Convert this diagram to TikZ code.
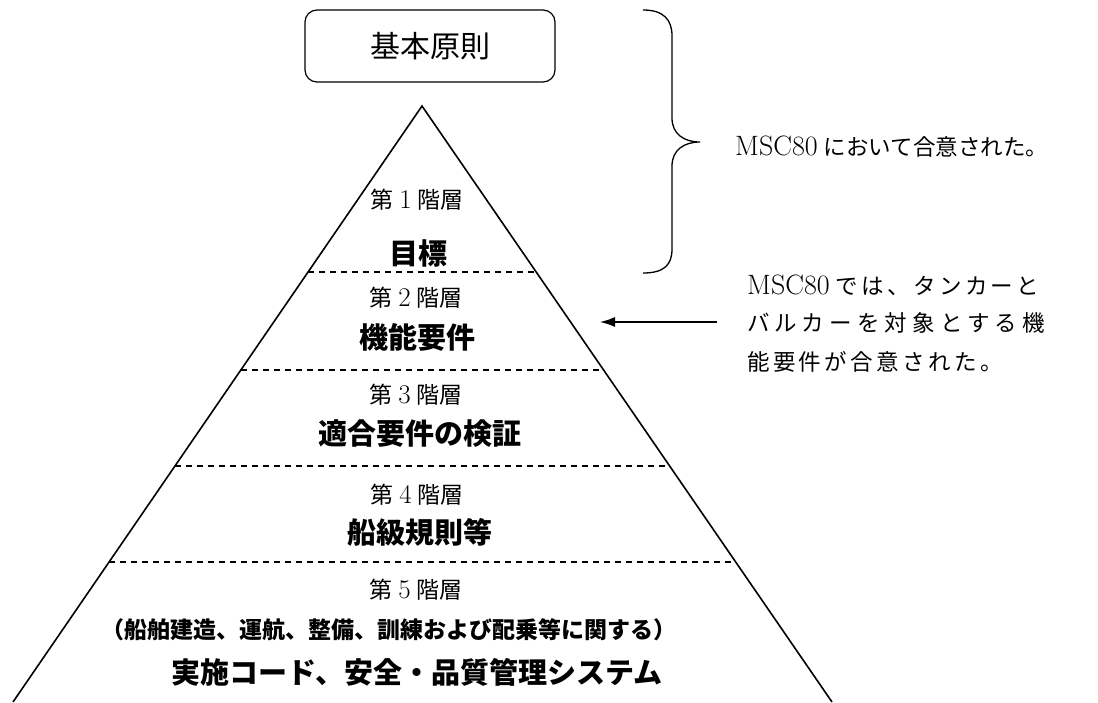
\documentclass[tikz,border=0pt]{standalone}
\usepackage{fontspec}
\newfontfamily\cjk{Noto Sans CJK JP}
\newfontfamily\cjksp[LetterSpace=15]{Noto Sans CJK JP}
\newfontfamily\cjkspw[LetterSpace=23]{Noto Sans CJK JP}
\newcommand\latbig[1]{{\fontsize{28}{30}\selectfont #1}}
\newcommand\tierdigit[1]{{\fontsize{27}{30}\selectfont #1}}
\usetikzlibrary{arrows.meta,calc}
\tikzset{
  edge/.style={line width=1.6pt, line join=miter},
  tierline/.style={line width=1.3pt, dash pattern=on 6pt off 5pt},
  tierlabel/.style={font=\fontsize{23}{26}\selectfont\cjk, inner sep=0pt},
  tiername/.style={font=\fontsize{29}{32}\selectfont\cjk\bfseries, inner sep=0pt},
  note/.style={font=\fontsize{22.5}{26}\selectfont, inner sep=0pt, anchor=west},
}
\begin{document}
\begin{tikzpicture}[x=1pt,y=-1pt]
\useasboundingbox (0,0) rectangle (1098,702);
\fill[white] (0,0) rectangle (1098,702);

% top box
\node[draw, line width=1.2pt, rounded corners=12pt, minimum width=250pt, minimum height=72pt,
      font=\fontsize{30}{36}\selectfont\cjk] (box) at (430,46) {基本原則};

% pyramid
\coordinate (apex) at (422,106);
\coordinate (bl) at (13,702);
\coordinate (br) at (832,702);
\draw[edge] (bl) -- (apex) -- (br);

\foreach \t/\n in {0.2785/1, 0.443/2, 0.604/3, 0.765/4}{
  \coordinate (l\n) at ($(apex)!\t!(bl)$);
  \coordinate (r\n) at ($(apex)!\t!(br)$);
  \draw[tierline] (l\n) -- (r\n);
}

% tier texts
\node[tierlabel] (t1) at (417,200) {第\hspace{6pt}\tierdigit{\rmfamily 1}\hspace{6pt}階層};
\node[tiername] (n1) at (418,253) {目標};
\node[tierlabel] (t2) at (416,298) {第\hspace{6pt}\tierdigit{\rmfamily 2}\hspace{6pt}階層};
\node[tiername] (n2) at (417,337) {機能要件};
\node[tierlabel] (t3) at (416,395) {第\hspace{6pt}\tierdigit{\rmfamily 3}\hspace{6pt}階層};
\node[tiername] (n3) at (420,434) {適合要件の検証};
\node[tierlabel] (t4) at (417,495) {第\hspace{6pt}\tierdigit{\rmfamily 4}\hspace{6pt}階層};
\node[tiername] (n4) at (420,532) {船級規則等};
\node[tierlabel] (t5) at (416,590) {第\hspace{6pt}\tierdigit{\rmfamily 5}\hspace{6pt}階層};
\node[font=\fontsize{23}{28}\selectfont\cjk\bfseries, inner sep=0pt] (n5a) at (389,630) {（船舶建造、運航、整備、訓練および配乗等に関する）};
\node[tiername] (n5b) at (417,672) {実施コード、安全・品質管理システム};

% brace
\draw[line width=1.3pt] (643,10) .. controls (664,10) and (672,20) .. (672,36) -- (672,118)
  .. controls (672,134) and (684,142) .. (700,142)
  .. controls (684,142) and (672,150) .. (672,166) -- (672,249)
  .. controls (672,265) and (664,273) .. (643,273);

\node[note] (agreed) at (735,147) {\latbig{MSC80}\hspace{6pt}{\cjk において合意された。}};

% second note
\node[note] (m1) at (747,285) {\latbig{MSC80}\hspace{6pt}{\cjksp では、タンカーと}};
\node[note] (m2) at (747,323) {\cjkspw バルカーを対象とする機};
\node[note] (m3) at (747,362) {\cjksp 能要件が合意された。};

\coordinate (arrstart) at (717,322);
\coordinate (arrtip) at (600,322);
\draw[line width=1.3pt, -{Latex[length=15pt, width=10pt]}] (arrstart) -- (arrtip);
\end{tikzpicture}
\end{document}
